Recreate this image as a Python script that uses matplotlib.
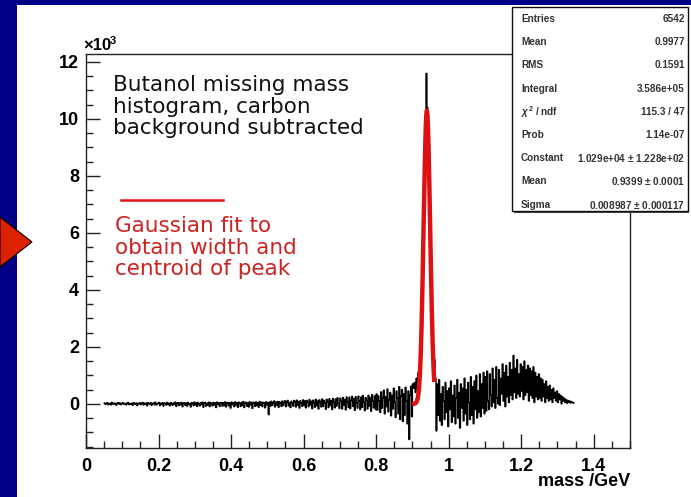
import numpy as np
import matplotlib
matplotlib.use("Agg")
import matplotlib.pyplot as plt
from matplotlib.patches import Rectangle, Polygon
from matplotlib.ticker import MultipleLocator

# Missing-mass histogram (counts / 10^3), 2.5 MeV bins starting at 0.05 GeV
bin_start = 0.05
bin_width = 0.0025

flat_low = [
    0.03, -0.02, 0.01, 0.04, -0.03, 0.00, 0.02, -0.04, 0.05, 0.01,
    -0.02, 0.03, 0.00, -0.05, 0.02, 0.04, -0.01, 0.03, -0.03, 0.01,
    0.04, -0.02, 0.02, 0.00, -0.04, 0.03, 0.05, -0.03, 0.01, -0.01,
    0.02, -0.05, 0.04, 0.01, -0.02, 0.03, -0.06, 0.02, 0.00, 0.04,
    -0.03, 0.01, 0.05, -0.04, 0.02, -0.01, 0.03, -0.07, 0.04, 0.02,
    -0.02, 0.04, -0.05, 0.01, 0.03, -0.03, 0.06, -0.04, 0.00, 0.02,
    0.05, -0.06, 0.02, -0.02, 0.04, -0.08, 0.03, 0.01, -0.04, 0.05,
    -0.03, 0.02, -0.07, 0.04, 0.01, -0.05, 0.03, -0.02, 0.06, -0.09,
    0.02, 0.04, -0.06, 0.03, -0.03, 0.05, -0.10, 0.02, 0.04, -0.05,
    0.03, -0.08, 0.05, -0.02, 0.01, -0.11, 0.04, 0.02, -0.06, 0.06,
    -0.04, 0.03, -0.09, 0.05, 0.00, -0.07, 0.04, -0.03, 0.06, -0.12,
    0.03, 0.05, -0.08, 0.02, -0.05, 0.06, -0.10, 0.04, 0.01, -0.07,
    0.05, -0.04, 0.03, -0.13, 0.06, -0.02, 0.04, -0.09, 0.03, 0.05,
    -0.08, 0.04, -0.06, 0.07, -0.11, 0.02, 0.05, -0.07, 0.04, -0.15,
    0.06, -0.03, 0.04, -0.10, 0.07, -0.05, 0.03, -0.12, 0.06, 0.02,
    -0.09, 0.05, -0.06, 0.08, -0.13, 0.04, 0.06, -0.08, 0.03, -0.11,
    0.07, -0.04, 0.05, -0.16, 0.06, 0.02, -0.09, 0.07, -0.06, 0.04,
    -0.12, 0.08, -0.05, 0.06, -0.10, 0.05, 0.03, -0.14, 0.07, -0.04,
]
flat_mid = [
    0.05, -0.38, 0.06, -0.08, 0.09, -0.05, 0.04, 0.10, -0.11, 0.06,
    -0.04, 0.08, -0.12, 0.07, 0.02, -0.09, 0.10, -0.06, 0.05, 0.11,
    -0.10, 0.07, 0.12, -0.07, 0.04, -0.13, 0.09, 0.03, -0.08, 0.12,
    0.06, -0.11, 0.13, -0.05, 0.08, -0.15, 0.11, 0.02, -0.09, 0.14,
    -0.06, 0.10, -0.14, 0.12, 0.05, -0.10, 0.15, -0.04, 0.09, -0.17,
    0.13, 0.04, -0.12, 0.16, -0.07, 0.10, -0.18, 0.14, 0.06, -0.11,
    0.17, -0.09, 0.12, 0.03, -0.19, 0.16, 0.08, -0.13, 0.18, -0.06,
    0.11, -0.20, 0.19, 0.05, -0.14, 0.17, -0.08, 0.21, 0.02, -0.16,
    0.20, 0.09, -0.18, 0.22, -0.05, 0.14, -0.21, 0.24, 0.07, -0.12,
    0.23, -0.17, 0.12, 0.26, -0.09, 0.18, -0.23, 0.25, 0.04, -0.15,
    0.27, 0.10, -0.20, 0.24, -0.12, 0.29, 0.06, -0.24, 0.22, 0.13,
    -0.18, 0.30, -0.08, 0.21, -0.26, 0.32, 0.09, -0.14, 0.28, -0.20,
]
pre_peak = [
    0.35, -0.22, 0.28, 0.10, -0.30, 0.42, -0.15, 0.20, 0.48, -0.35,
    0.25, -0.10, 0.52, -0.28, 0.15, 0.40, -0.42, 0.30, -0.18, 0.55,
    0.05, -0.48, 0.45, 0.20, -0.35, 0.60, -0.55, 0.28, 0.50, -0.62,
    0.35, -0.40, 0.58, 0.10, -0.70, 0.45, -1.25, 0.30, 0.62, -0.45,
    0.70, 0.55,
]
peak = [
    0.75, 0.40, 0.90, 0.55, 1.10, 0.85, 1.45, 2.30, 3.40, 4.90,
    6.60, 8.20, 9.70, 11.60, 10.40, 9.30, 7.90, 6.20, 4.50, 3.00,
    1.90, 1.40, 1.55, 0.90,
]
post_peak = [
    -0.95, 0.70, -0.40, 0.85, -0.60, 0.35, -0.75, 0.60, 0.10, -0.55,
    0.75, -0.30, 0.45, -0.80, 0.55, -0.20, 0.80, -0.65, 0.30, -0.45,
    0.65, -0.70, 0.20, 0.85, -0.50, 0.40, -0.85, 0.70, -0.15, 0.55,
    -0.60, 0.90, -0.35, 0.50, -0.75, 0.75, 0.05, -0.55, 0.95, -0.40,
    0.60, -0.70, 0.80, -0.20, 1.00, -0.50, 0.45, -0.30, 1.05, -0.45,
    0.70, -0.15, 1.10, -0.35,
]
bump = [
    0.95, -0.25, 1.15, 0.10, -0.20, 1.05, 0.30, -0.10, 1.25, 0.05,
    0.85, -0.15, 1.30, 0.20, 0.00, 1.20, -0.05, 0.90, 0.35, 1.40,
    0.10, 1.10, -0.10, 1.35, 0.25, 0.95, 0.05, 1.45, 0.30, 1.20,
    0.15, 1.70, 0.40, 1.25, 0.20, 1.55, 0.35, 1.05, 0.25, 1.40,
    0.45, 1.30, 0.15, 1.50, 0.30, 1.20, 0.40, 1.35, 0.10, 1.25,
    0.30, 1.15, 0.20, 1.30, 0.05, 1.10, 0.25, 0.95, 0.15, 1.05,
]
tail = [
    0.20, 0.90, 0.10, 0.85, 0.25, 0.70, 0.05, 0.80, 0.20, 0.60,
    0.10, 0.65, 0.15, 0.50, 0.05, 0.55, 0.20, 0.40, 0.10, 0.45,
    0.05, 0.35, 0.15, 0.30, 0.00, 0.25, 0.10, 0.20, 0.05, 0.15,
    0.02, 0.12, 0.06, 0.10, 0.03, 0.08, 0.04, 0.05,
]

counts_k = np.array(flat_low + flat_mid + pre_peak + peak + post_peak + bump + tail)
edges = bin_start + bin_width * np.arange(len(counts_k) + 1)

# Gaussian fit result
fit_const = 1.029e4
fit_mean = 0.9399
fit_sigma = 0.008987
fit_range = (0.905, 0.96)

stat_names = ["Entries", "Mean", "RMS", "Integral", r"$\chi^{2}$ / ndf", "Prob",
              "Constant", "Mean", "Sigma"]
stat_values = ["6542", "0.9977", "0.1591", "3.586e+05", "115.3 / 47", "1.14e-07",
               "1.029e+04 $\\pm$ 1.228e+02", "0.9399 $\\pm$ 0.0001",
               "0.008987 $\\pm$ 0.000117"]

x_ticks = [0, 0.2, 0.4, 0.6, 0.8, 1.0, 1.2, 1.4]
x_labels = ["0", "0.2", "0.4", "0.6", "0.8", "1", "1.2", "1.4"]
y_ticks = [0, 2, 4, 6, 8, 10, 12]

W, H = 691, 497


def fx(px):
    return px / W


def fy(py):
    return 1 - py / H


root_font = "Liberation Sans"
plt.rcParams["mathtext.fontset"] = "custom"
plt.rcParams["mathtext.rm"] = "Liberation Sans:bold"
plt.rcParams["mathtext.it"] = "Liberation Sans:bold:italic"

fig = plt.figure(figsize=(W / 100, H / 100), dpi=100, facecolor="#000086")

# white slide panel and the pointer arrow
fig.add_artist(Rectangle((fx(17), 0), 1 - fx(17), fy(5), transform=fig.transFigure,
                         facecolor="white", edgecolor="none", zorder=-5))
fig.add_artist(Polygon([(fx(0), fy(217)), (fx(32), fy(242)), (fx(0), fy(267))],
                       closed=True, transform=fig.transFigure,
                       facecolor="#dd2200", edgecolor="black", lw=0.8, zorder=-4))

ax = fig.add_axes([fx(86), fy(448), fx(630) - fx(86), fy(54) - fy(448)])
ax.set_facecolor("white")

ax.stairs(counts_k, edges, color="black", lw=1.0, zorder=2)

xf = np.linspace(fit_range[0], fit_range[1], 300)
yf = fit_const * np.exp(-0.5 * ((xf - fit_mean) / fit_sigma) ** 2) / 1000
ax.plot(xf, yf, color="#dd1111", lw=3.2, zorder=3)

ax.set_xlim(0, 1.5)
ax.set_ylim(-1.55, 12.28)
ax.set_xticks(x_ticks)
ax.set_xticklabels(x_labels)
ax.set_yticks(y_ticks)
ax.set_yticklabels([str(v) for v in y_ticks])
ax.xaxis.set_minor_locator(MultipleLocator(0.05))
ax.yaxis.set_minor_locator(MultipleLocator(0.5))
ax.tick_params(which="both", direction="in", top=False, right=False, color="#222222")
ax.tick_params(which="major", length=10, width=1.0)
ax.tick_params(which="minor", length=5, width=1.0)
ax.tick_params(axis="x", pad=7)
ax.tick_params(axis="y", pad=5)
for lab in ax.get_xticklabels() + ax.get_yticklabels():
    lab.set_fontfamily(root_font)
    lab.set_fontweight("bold")
    lab.set_fontsize(13)
for sp in ax.spines.values():
    sp.set_color("#222222")
    sp.set_linewidth(1.0)

fig.text(fx(630), fy(482), "mass /GeV", ha="right", va="center",
         fontfamily=root_font, fontweight="bold", fontsize=13)
fig.text(fx(83), fy(53), "\u00d710", ha="left", va="bottom",
         fontfamily=root_font, fontweight="bold", fontsize=12)
fig.text(fx(110), fy(46), "3", ha="left", va="bottom",
         fontfamily=root_font, fontweight="bold", fontsize=8)

# annotations
fig.text(fx(113), fy(75), "Butanol missing mass\nhistogram, carbon\nbackground subtracted",
         ha="left", va="top", fontfamily="DejaVu Sans",
         fontsize=15.5, color="#111111", linespacing=1.1)
fig.add_artist(plt.Line2D([fx(121), fx(223)], [fy(200), fy(200)], color="#dd1111", lw=1.8))
fig.text(fx(115), fy(216), "Gaussian fit to\nobtain width and\ncentroid of peak",
         ha="left", va="top", fontfamily="DejaVu Sans", fontsize=15.5,
         color="#cc2222", linespacing=1.1)

# statistics box
fig.add_artist(Rectangle((fx(514), fy(213)), fx(689) - fx(514), fy(9) - fy(213),
                         transform=fig.transFigure, facecolor="#444444",
                         edgecolor="none", zorder=5))
fig.add_artist(Rectangle((fx(512), fy(211)), fx(688) - fx(512), fy(7) - fy(211),
                         transform=fig.transFigure, facecolor="white",
                         edgecolor="#111111", lw=1.0, zorder=6))
row_y = 19
for name, val in zip(stat_names, stat_values):
    fig.text(fx(521), fy(row_y), name, ha="left", va="center", fontfamily=root_font,
             fontweight="bold", fontsize=7.2, color="#333333", zorder=7)
    fig.text(fx(685), fy(row_y), val, ha="right", va="center", fontfamily=root_font,
             fontweight="bold", fontsize=7.2, color="#333333", zorder=7)
    row_y += 23.2

fig.savefig("out.png", dpi=100, facecolor=fig.get_facecolor())
